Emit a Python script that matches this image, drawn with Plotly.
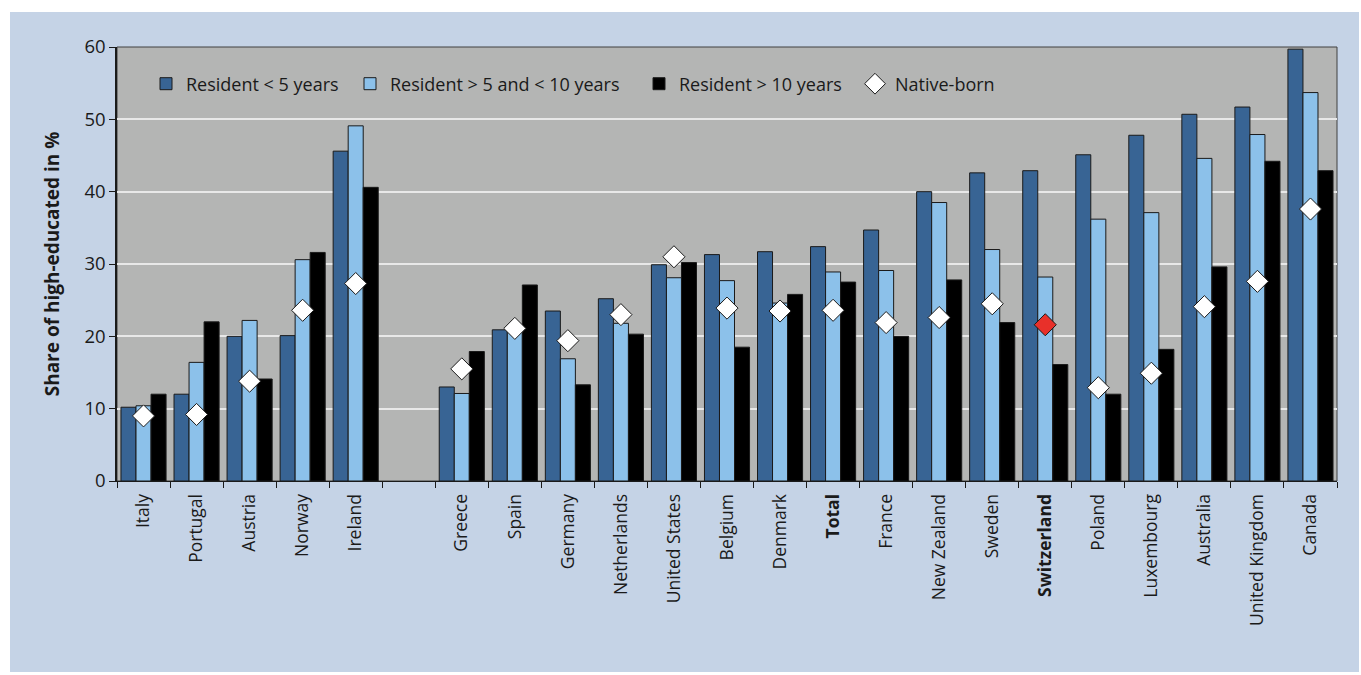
import plotly.graph_objects as go

categories = ["Italy", "Portugal", "Austria", "Norway", "Ireland", " ",
              "Greece", "Spain", "Germany", "Netherlands", "United States",
              "Belgium", "Denmark", "Total", "France", "New Zealand", "Sweden",
              "Switzerland", "Poland", "Luxembourg", "Australia",
              "United Kingdom", "Canada"]
bold_labels = ["Total", "Switzerland"]

res_lt5 = [10.2, 12.0, 20.0, 20.1, 45.6, None, 13.0, 20.9, 23.5, 25.2, 29.9,
           31.3, 31.7, 32.4, 34.7, 40.0, 42.6, 42.9, 45.1, 47.8, 50.7, 51.7, 59.7]
res_5to10 = [10.4, 16.4, 22.2, 30.6, 49.1, None, 12.1, 21.0, 16.9, 21.8, 28.1,
             27.7, 24.6, 28.9, 29.1, 38.5, 32.0, 28.2, 36.2, 37.1, 44.6, 47.9, 53.7]
res_gt10 = [12.0, 22.0, 14.1, 31.6, 40.6, None, 17.9, 27.1, 13.3, 20.3, 30.2,
            18.5, 25.8, 27.5, 20.0, 27.8, 21.9, 16.1, 12.0, 18.2, 29.6, 44.2, 42.9]
native_born = [9.0, 9.2, 13.8, 23.6, 27.3, None, 15.5, 21.1, 19.4, 23.0, 31.0,
               23.9, 23.5, 23.6, 21.9, 22.6, 24.5, 21.6, 12.9, 14.9, 24.1, 27.6, 37.6]

labels = [f"<b>{c}</b>" if c in bold_labels else c for c in categories]
native_colors = ["#e8302a" if c == "Switzerland" else "white" for c in categories]

W, H = 1361, 675
L, R, T, B = 117, 1337, 47, 481
FONT = "Open Sans, Noto Sans, sans-serif"
TXT = "#1a1a1a"

fig = go.Figure()
bar_line = dict(color="#1a1a1a", width=1)
fig.add_trace(go.Bar(x=labels, y=res_lt5, name="Resident < 5 years", legend="legend",
                     marker=dict(color="#386494", line=bar_line)))
fig.add_trace(go.Bar(x=labels, y=res_5to10, name="Resident > 5 and < 10 years", legend="legend2",
                     marker=dict(color="#8cc1ea", line=bar_line)))
fig.add_trace(go.Bar(x=labels, y=res_gt10, name="Resident > 10 years", legend="legend3",
                     marker=dict(color="#000000", line=bar_line)))
fig.add_trace(go.Scatter(x=labels, y=native_born, name="Native-born", mode="markers",
                         legend="legend4",
                         marker=dict(symbol="diamond", size=17, color=native_colors,
                                     line=dict(color="#1a1a1a", width=1))))

pw = R - L
ph = B - T
def px_x(p):
    return (p - L) / pw
def px_y(p):
    return (B - p) / ph

fig.add_shape(type="rect", xref="paper", yref="paper",
              x0=px_x(10), x1=px_x(1359), y0=px_y(672), y1=px_y(12),
              fillcolor="#c5d3e6", line=dict(width=0), layer="below")
fig.add_shape(type="rect", xref="paper", yref="paper",
              x0=0, x1=1, y0=0, y1=1,
              fillcolor="#b4b5b4", line=dict(color="#404040", width=1), layer="below")

def leg(xpx):
    return dict(orientation="h", x=px_x(xpx), y=px_y(84), xanchor="left", yanchor="middle",
                bgcolor="rgba(0,0,0,0)", font=dict(size=18, family=FONT, color=TXT))

fig.update_layout(
    width=W, height=H,
    margin=dict(l=L, r=W - R, t=T, b=H - B),
    paper_bgcolor="white", plot_bgcolor="rgba(0,0,0,0)",
    barmode="group", bargap=0.15, bargroupgap=0,
    font=dict(family=FONT, color=TXT),
    legend=leg(146), legend2=leg(350), legend3=leg(639), legend4=leg(855),
    showlegend=True,
)
fig.update_xaxes(type="category", categoryorder="array", categoryarray=labels,
                 range=[-0.5, len(labels) - 0.5], autorange=False,
                 tickangle=-90, tickfont=dict(size=17.5, family=FONT, color=TXT),
                 showline=True, linecolor=TXT, linewidth=1, mirror=False,
                 ticks="outside", ticklen=6, tickcolor=TXT, tickson="boundaries",
                 showgrid=False, ticklabelstandoff=5)
fig.update_yaxes(range=[0, 60], dtick=10, showgrid=True, gridcolor="#e8e8e8", gridwidth=1.5,
                 showline=True, linecolor=TXT, linewidth=1.5, zeroline=False,
                 ticks="outside", ticklen=6, tickcolor=TXT,
                 tickfont=dict(size=18.5, family=FONT, color=TXT),
                 title=dict(text="<b>Share of high-educated in %</b>",
                            font=dict(size=19, family=FONT, color=TXT), standoff=20))

fig.write_html("out.html")
